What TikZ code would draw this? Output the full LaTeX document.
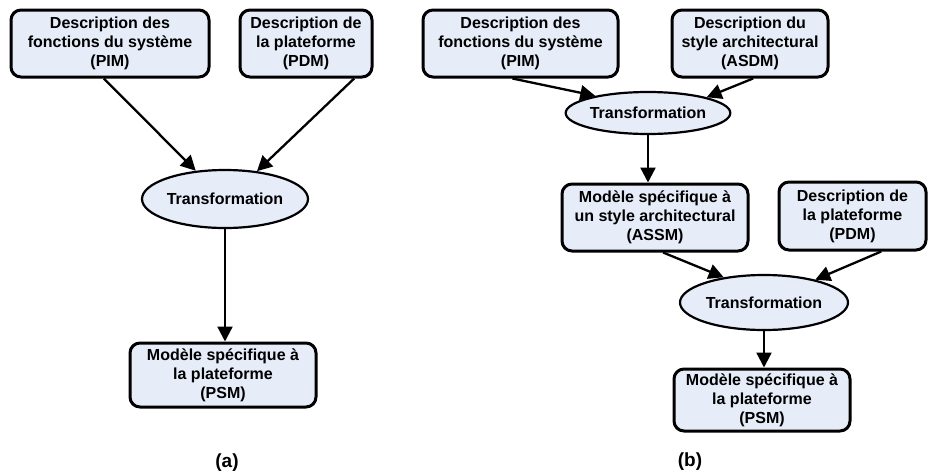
\documentclass[tikz,border=0pt]{standalone}
\usepackage{fontspec}
\setmainfont{Liberation Sans}
\usetikzlibrary{arrows.meta,shapes.geometric}
\definecolor{boxfill}{RGB}{230,236,248}
\begin{document}
\begin{tikzpicture}[x=1pt,y=-1pt,
  model/.style={draw=black, line width=3pt, fill=boxfill, rounded corners=10pt,
    align=center, inner sep=0pt, font=\bfseries\fontsize{16}{19}\selectfont},
  transfo/.style={draw=black, ellipse, line width=2.2pt, fill=boxfill, inner sep=0pt,
    font=\bfseries\fontsize{16}{19}\selectfont},
  flow/.style={line width=2.3pt, -{Triangle[length=15pt,width=15pt]}},
  caption/.style={font=\bfseries\fontsize{19}{22}\selectfont}]
\useasboundingbox (0,0) rectangle (929,472);

% ---- (a) : direct transformation PIM + PDM -> PSM
\node[model, minimum width=198pt, minimum height=67pt] (pimA) at (110,43.5)
  {Description des\\fonctions du système\\(PIM)};
\node[model, minimum width=132pt, minimum height=67pt] (pdmA) at (306,43.5)
  {Description de\\la plateforme\\(PDM)};
\node[transfo, minimum width=166pt, minimum height=58pt] (trA) at (225,199) {Transformation};
\node[model, minimum width=186pt, minimum height=64pt] (psmA) at (223,375)
  {Modèle spécifique à\\la plateforme\\(PSM)};
\node[caption] (capA) at (227,463) {(a)};

\draw[flow] (pimA.-100) -- (trA.136);
\draw[flow] (pdmA.-36) -- (trA.41);
\draw[flow] (trA.south) -- (trA.south |- psmA.north);

% ---- (b) : two-step transformation through the architectural style
\node[model, minimum width=195pt, minimum height=67pt] (pimB) at (520.5,43.5)
  {Description des\\fonctions du système\\(PIM)};
\node[model, minimum width=156pt, minimum height=67pt] (asdmB) at (750,43.5)
  {Description du\\style architectural\\(ASDM)};
\node[transfo, minimum width=164pt, minimum height=42pt] (trB1) at (648,113) {Transformation};
\node[model, minimum width=186pt, minimum height=67pt] (assmB) at (655,217.5)
  {Modèle spécifique à\\un style architectural\\(ASSM)};
\node[model, minimum width=147pt, minimum height=68pt] (pdmB) at (852.5,216)
  {Description de\\la plateforme\\(PDM)};
\node[transfo, minimum width=168pt, minimum height=55pt] (trB2) at (764,302.5) {Transformation};
\node[model, minimum width=176pt, minimum height=62pt] (psmB) at (762,400)
  {Modèle spécifique à\\la plateforme\\(PSM)};
\node[caption] (capB) at (690,462) {(b)};

\draw[flow] (pimB.-103) -- (trB1.162);
\draw[flow] (asdmB.-85) -- (trB1.15);
\draw[flow] (trB1.south) -- (trB1.south |- assmB.north);
\draw[flow] (assmB.-77) -- (trB2.148);
\draw[flow] (pdmB.-51) -- (trB2.24);
\draw[flow] (trB2.south) -- (trB2.south |- psmB.north);
\end{tikzpicture}
\end{document}
